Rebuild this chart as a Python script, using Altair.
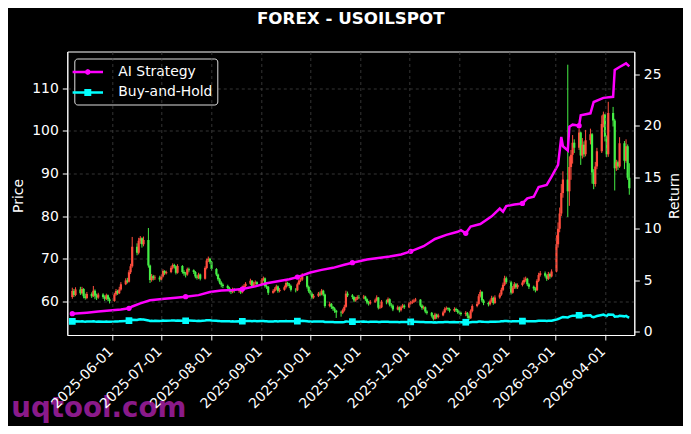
import altair as alt
import pandas as pd

TITLE = "FOREX - USOILSPOT"
WATERMARK = "uqtool.com"
SERIES = ["AI Strategy", "Buy-and-Hold"]
SERIES_COLORS = ["#ff00ff", "#00ffff"]
UP_COLOR = "#ff4d3d"
DOWN_COLOR = "#45ee45"
FONT = "DejaVu Sans"

START, END = "2025-05-07", "2026-04-16"
first_open = 61.0

# daily closes, one row per week (Mon-Fri)
closes = [
    62.4, 61.5, 62.8,
    61.9, 62.9, 61.2, 60.8, 61.7,
    61.2, 62.5, 61.3, 60.9, 61.6,
    61.0, 60.6, 61.4, 60.5, 60.1,
    61.6, 62.4, 61.9, 62.8, 64.0,
    64.9, 64.6, 66.8, 68.2, 72.8,
    71.4, 74.2, 74.8, 73.4, 74.4,
    68.4, 65.0, 65.9, 65.4, 65.6,
    65.1, 65.8, 67.1, 66.6, 66.9,
    67.9, 68.5, 68.2, 66.7, 68.3,
    66.9, 66.5, 66.3, 67.5, 67.3,
    66.9, 65.8, 65.5, 66.3, 65.3,
    67.8, 69.6, 70.0, 69.3, 67.6,
    66.3, 65.2, 64.4, 63.9, 63.6,
    63.1, 62.6, 62.2, 62.9, 62.4,
    62.6, 62.1, 63.3, 63.6, 64.1,
    64.8, 63.5, 64.2, 64.5, 64.0,
    65.0, 65.4, 63.6, 63.4, 62.0,
    62.4, 62.9, 63.5, 62.4, 62.7,
    63.3, 64.3, 64.0, 63.6, 62.7,
    62.6, 64.0, 64.9, 65.1, 65.9,
    63.4, 62.4, 61.8, 60.9, 61.3,
    61.8, 61.6, 62.5, 61.6, 58.9,
    59.4, 58.7, 58.3, 57.8, 57.4,
    57.3, 57.9, 58.7, 61.8, 61.4,
    61.0, 60.2, 60.6, 61.0, 60.9,
    61.1, 60.5, 59.7, 59.5, 59.9,
    60.2, 60.9, 58.5, 58.6, 59.9,
    59.8, 60.5, 59.2, 59.0, 58.1,
    58.6, 57.9, 58.6, 59.0, 58.6,
    59.5, 59.7, 59.9, 60.2, 60.4,
    59.0, 58.4, 58.6, 57.6, 57.3,
    56.6, 55.9, 56.9, 56.3, 56.7,
    57.4, 58.2, 58.4, 58.2, 57.8,
    58.2, 57.9, 57.5, 57.3, 57.0,
    57.3, 56.6, 56.0, 57.7, 58.9,
    59.4, 61.2, 62.2, 60.2, 59.6,
    59.3, 60.0, 60.8, 59.6, 60.9,
    61.6, 62.7, 63.9, 65.4, 64.5,
    62.0, 63.2, 64.0, 63.3, 63.8,
    64.4, 65.0, 65.3, 64.0, 63.4,
    63.0, 62.6, 64.8, 66.2, 66.6,
    66.0, 65.3, 66.4, 65.8, 67.0,
    73.4, 77.0, 80.6, 85.4, 88.6,
    85.8, 91.5, 94.4, 97.2, 96.0,
    99.6, 94.2, 96.7, 94.5, 97.8,
    99.2, 90.2, 87.5, 91.6, 95.2,
    101.6, 103.8, 98.6, 94.5, 104.2,
    102.4, 91.2, 92.6, 91.6, 97.1,
    93.0, 96.4, 89.0, 86.5,
]

highs = [
    63.2, 62.9, 63.3,
    63.4, 63.4, 63.1, 61.8, 62.2,
    62.1, 63.6, 62.8, 61.8, 62.0,
    61.9, 61.4, 61.8, 61.6, 60.9,
    62.0, 62.9, 62.7, 63.4, 64.5,
    65.4, 65.5, 67.3, 68.8, 75.1,
    73.6, 74.9, 75.3, 75.0, 75.2,
    77.2, 68.6, 66.4, 66.2, 66.1,
    66.0, 66.3, 67.5, 67.3, 67.2,
    68.3, 68.9, 68.8, 68.4, 68.7,
    68.5, 67.3, 66.9, 67.9, 67.9,
    67.5, 67.1, 66.2, 66.7, 66.5,
    68.2, 70.0, 70.5, 70.2, 69.5,
    67.8, 66.5, 65.5, 64.7, 64.2,
    63.9, 63.4, 62.9, 63.2, 63.1,
    63.0, 62.9, 63.7, 64.0, 64.5,
    65.3, 65.0, 64.6, 64.9, 64.7,
    65.4, 65.8, 65.6, 64.0, 63.6,
    62.8, 63.3, 63.9, 63.7, 63.1,
    63.7, 64.8, 64.6, 64.3, 63.9,
    63.1, 64.4, 65.4, 65.6, 66.6,
    66.0, 63.7, 62.7, 62.1, 61.7,
    62.2, 62.3, 62.9, 62.7, 61.8,
    59.9, 59.6, 58.9, 58.6, 58.0,
    57.8, 58.3, 59.2, 62.5, 62.3,
    61.7, 61.2, 61.0, 61.4, 61.5,
    61.5, 61.3, 60.7, 60.1, 60.3,
    60.6, 61.4, 61.0, 59.1, 60.3,
    60.4, 60.9, 60.7, 59.6, 59.3,
    59.0, 58.8, 59.0, 59.4, 59.3,
    59.9, 60.1, 60.4, 60.6, 60.8,
    60.5, 59.3, 59.0, 58.8, 57.9,
    57.5, 56.8, 57.3, 57.1, 57.1,
    57.8, 58.6, 58.8, 58.6, 58.5,
    58.6, 58.5, 58.2, 57.7, 57.6,
    57.7, 57.5, 56.9, 58.1, 59.3,
    59.9, 61.7, 62.7, 62.4, 60.5,
    59.9, 60.4, 61.3, 61.1, 61.4,
    62.0, 63.2, 64.4, 66.0, 65.8,
    64.8, 63.6, 64.5, 64.3, 64.2,
    64.9, 65.6, 65.8, 65.5, 64.3,
    63.7, 63.3, 65.2, 66.7, 67.1,
    67.0, 66.3, 66.9, 66.7, 67.5,
    75.5, 78.5, 82.0, 87.5, 90.5,
    115.5, 94.0, 95.5, 99.0, 98.0,
    100.6, 99.8, 98.3, 97.5, 100.2,
    100.5, 99.5, 91.0, 92.7, 96.0,
    103.6, 104.5, 104.0, 98.9, 106.8,
    105.6, 102.8, 93.2, 93.0, 98.5,
    97.6, 98.0, 96.8, 92.4,
]

lows = [
    60.6, 61.0, 61.2,
    61.5, 61.6, 60.7, 60.4, 60.5,
    60.8, 61.0, 60.5, 60.3, 60.6,
    60.6, 60.1, 60.3, 60.0, 59.5,
    59.9, 61.3, 61.5, 61.7, 62.5,
    63.8, 64.2, 64.4, 66.4, 67.9,
    70.8, 71.0, 73.5, 72.6, 72.9,
    67.9, 64.3, 64.6, 64.9, 65.0,
    64.6, 64.9, 65.6, 66.2, 66.3,
    66.6, 67.5, 67.7, 66.3, 66.5,
    66.5, 66.0, 65.6, 66.0, 66.8,
    66.4, 65.4, 65.1, 65.2, 64.9,
    65.1, 67.5, 69.2, 68.8, 67.2,
    65.9, 64.8, 64.0, 63.3, 63.1,
    62.7, 62.1, 61.7, 61.9, 62.0,
    62.0, 61.7, 61.9, 62.9, 63.3,
    63.8, 63.2, 63.3, 63.9, 63.6,
    63.8, 64.7, 63.2, 62.9, 61.5,
    61.8, 62.1, 62.6, 62.0, 62.1,
    62.5, 63.0, 63.5, 63.1, 62.3,
    62.1, 62.4, 63.8, 64.5, 64.8,
    63.0, 62.0, 61.4, 60.5, 60.6,
    61.0, 61.2, 61.4, 61.2, 58.5,
    58.6, 58.2, 57.8, 57.3, 56.1,
    56.4, 57.0, 57.6, 58.5, 61.0,
    60.5, 59.8, 59.9, 60.3, 60.5,
    60.5, 60.1, 59.3, 59.0, 59.2,
    59.6, 60.0, 58.1, 58.2, 58.4,
    59.3, 59.5, 58.8, 58.5, 57.7,
    57.9, 57.4, 57.6, 58.4, 58.2,
    58.4, 59.2, 59.4, 59.6, 59.9,
    58.7, 58.0, 58.1, 57.2, 56.9,
    56.2, 55.5, 55.7, 55.9, 56.0,
    56.5, 57.2, 57.9, 57.8, 57.4,
    57.5, 57.5, 57.1, 56.9, 56.6,
    56.5, 56.0, 55.6, 55.9, 57.4,
    58.6, 59.2, 60.9, 59.8, 59.1,
    58.8, 59.0, 59.7, 59.2, 59.4,
    60.6, 61.3, 62.4, 63.6, 64.1,
    61.6, 61.8, 62.9, 62.9, 62.9,
    63.5, 64.1, 64.6, 63.6, 62.9,
    62.5, 62.1, 62.4, 64.5, 65.8,
    65.6, 64.8, 65.0, 65.3, 65.6,
    66.8, 72.6, 76.2, 80.0, 84.3,
    79.8, 82.4, 88.5, 92.3, 94.8,
    95.5, 92.0, 93.5, 93.8, 94.0,
    96.8, 87.6, 86.3, 86.9, 91.0,
    94.8, 100.8, 97.5, 93.8, 93.9,
    101.0, 86.0, 90.6, 90.8, 91.3,
    91.0, 92.5, 88.5, 85.0,
]

strategy_dates = [
    "2025-05-07", "2025-05-16", "2025-05-23", "2025-05-30", "2025-06-06",
    "2025-06-11", "2025-06-13", "2025-06-18", "2025-06-24", "2025-07-03",
    "2025-07-10", "2025-07-16", "2025-07-24", "2025-07-31", "2025-08-07",
    "2025-08-14", "2025-08-20", "2025-08-28", "2025-09-04", "2025-09-11",
    "2025-09-18", "2025-09-23", "2025-10-01", "2025-10-08", "2025-10-15",
    "2025-10-22", "2025-10-27", "2025-11-05", "2025-11-12", "2025-11-19",
    "2025-11-26", "2025-12-02", "2025-12-10", "2025-12-17", "2025-12-24",
    "2025-12-31", "2026-01-02", "2026-01-05", "2026-01-08", "2026-01-14",
    "2026-01-21", "2026-01-26", "2026-01-28", "2026-01-30", "2026-02-04",
    "2026-02-09", "2026-02-12", "2026-02-16", "2026-02-19", "2026-02-24",
    "2026-02-27", "2026-03-03", "2026-03-05", "2026-03-06", "2026-03-09",
    "2026-03-10", "2026-03-12", "2026-03-16", "2026-03-17", "2026-03-23",
    "2026-03-25", "2026-03-31", "2026-04-06", "2026-04-07", "2026-04-10",
    "2026-04-14", "2026-04-16",
]
strategy_values = [
    1.75, 1.85, 1.95, 2.05, 2.15,
    2.27, 2.45, 2.75, 3.05, 3.2,
    3.3, 3.4, 3.55, 3.85, 4.0,
    4.05, 4.14, 4.4, 4.7, 4.9,
    5.1, 5.3, 5.75, 6.0, 6.2,
    6.5, 6.7, 7.0, 7.15, 7.3,
    7.5, 7.8, 8.3, 9.0, 9.4,
    9.7, 9.85, 9.55, 10.2, 10.45,
    11.2, 11.95, 11.65, 12.2, 12.35,
    12.45, 12.95, 13.1, 14.05, 14.25,
    15.05, 16.2, 18.9, 18.0, 17.6,
    19.9, 20.1, 20.0, 21.0, 21.2,
    22.3, 22.7, 22.8, 25.4, 25.7,
    26.05, 25.75,
]

marker_dates = [
    "2025-05-07", "2025-06-11", "2025-07-16", "2025-08-20", "2025-09-23",
    "2025-10-27", "2025-12-02", "2026-01-05", "2026-02-09", "2026-03-16",
]

month_ticks = [(2025, 6), (2025, 7), (2025, 8), (2025, 9), (2025, 10), (2025, 11),
               (2025, 12), (2026, 1), (2026, 2), (2026, 3), (2026, 4)]
price_ticks = [60, 70, 80, 90, 100, 110]
return_ticks = [0, 5, 10, 15, 20, 25]
price_domain = [52.1, 118.6]
return_domain = [-0.32, 27.2]

days = pd.bdate_range(START, END).strftime("%Y-%m-%d").tolist()
assert len(days) == len(closes) == len(highs) == len(lows), (len(days), len(closes), len(highs), len(lows))
opens = [first_open] + closes[:-1]
price_df = pd.DataFrame({"date": days, "open": opens, "high": highs, "low": lows, "close": closes})

bh_values = [c / closes[0] for c in closes]
ai_df = pd.DataFrame({"date": strategy_dates, "value": strategy_values, "series": SERIES[0]})
bh_df = pd.DataFrame({"date": days, "value": bh_values, "series": SERIES[1]})
ai_markers_df = ai_df[ai_df["date"].isin(marker_dates)]
bh_markers_df = bh_df[bh_df["date"].isin(marker_dates)]
markers_df = pd.concat([ai_markers_df, bh_markers_df], ignore_index=True)


def dt(y, m, d):
    return alt.DateTime(year=y, month=m, date=d, utc=True)


x_enc = alt.X(
    "date:T",
    scale=alt.Scale(type="utc", domain=[dt(2025, 5, 7), dt(2026, 4, 16)]),
    axis=alt.Axis(
        values=[dt(y, m, 1) for y, m in month_ticks],
        format="%Y-%m-%d", labelAngle=315, labelAlign="right", labelBaseline="top",
        labelPadding=4, labelOffset=-7, labelOverlap=False, labelFlush=False,
        grid=True, title=None, zindex=1,
    ),
)

price_scale = alt.Scale(domain=price_domain, nice=False, zero=False)
price_axis = alt.Axis(values=price_ticks, orient="left", title="Price", grid=True,
                      titleAngle=270, titleX=-49, titleY=144,
                      titleAlign="center", titleBaseline="middle")
ret_scale = alt.Scale(domain=return_domain, nice=False, zero=False)
ret_axis = alt.Axis(values=return_ticks, orient="right", title="Return", grid=False,
                    titleAngle=270, titleX=40, titleY=144,
                    titleAlign="center", titleBaseline="middle")

candle_color = alt.condition("datum.close >= datum.open", alt.value(UP_COLOR), alt.value(DOWN_COLOR))

wicks = alt.Chart(price_df).mark_rule(strokeWidth=1, clip=True).encode(
    x=x_enc, y=alt.Y("low:Q", scale=price_scale, axis=price_axis), y2="high:Q", color=candle_color)
bodies = alt.Chart(price_df).mark_bar(size=2.2, clip=True).encode(
    x=x_enc, y=alt.Y("open:Q", scale=price_scale, axis=price_axis), y2="close:Q", color=candle_color)

y_ret = alt.Y("value:Q", scale=ret_scale, axis=ret_axis)
series_scale = alt.Scale(domain=SERIES, range=SERIES_COLORS)

ai_line = alt.Chart(ai_df).mark_line(strokeWidth=2.5, clip=True, color=SERIES_COLORS[0]).encode(
    x=x_enc, y=y_ret)
bh_line = alt.Chart(bh_df).mark_line(strokeWidth=2.5, clip=True, color=SERIES_COLORS[1]).encode(
    x=x_enc, y=y_ret)
ai_markers = alt.Chart(ai_markers_df).mark_point(
    shape="circle", filled=True, size=28, color=SERIES_COLORS[0], opacity=1, clip=True
).encode(x=x_enc, y=y_ret)
bh_markers = alt.Chart(bh_markers_df).mark_point(
    shape="square", filled=True, size=45, color=SERIES_COLORS[1], opacity=1, clip=True
).encode(x=x_enc, y=y_ret)

PATH_AI = "M-1.9,0L1.9,0M0.2,0L0.14,0.14L0,0.2L-0.14,0.14L-0.2,0L-0.14,-0.14L0,-0.2L0.14,-0.14Z"
PATH_BH = "M-1.9,0L1.9,0M-0.28,-0.28L0.28,-0.28L0.28,0.28L-0.28,0.28Z"

leg = alt.Legend(
    title=None, orient="top-left", offset=7, symbolSize=256, symbolStrokeWidth=2.5,
    symbolOpacity=1, labelOffset=21, padding=4, rowPadding=3.4, cornerRadius=3,
    fillColor="black", strokeColor="#dddddd", labelFontSize=13.9, labelColor="white",
    labelFont=FONT,
)
legend_layer = alt.Chart(markers_df).mark_point(filled=True, opacity=0).encode(
    x=x_enc, y=y_ret,
    fill=alt.Fill("series:N", scale=series_scale, legend=leg),
    stroke=alt.Stroke("series:N", scale=series_scale, legend=leg),
    shape=alt.Shape("series:N", scale=alt.Scale(domain=SERIES, range=[PATH_AI, PATH_BH]), legend=leg),
)

watermark = alt.Chart(pd.DataFrame({"t": [WATERMARK]})).mark_text(
    align="left", baseline="alphabetic", fontSize=27.7, fontWeight="bold",
    color="#8a1a8a", font=FONT,
).encode(x=alt.value(-56), y=alt.value(365.5), text="t:N")

price_layer = alt.layer(wicks, bodies)
ret_layer = alt.layer(ai_line, bh_line, ai_markers, bh_markers, legend_layer)

chart = alt.layer(price_layer, ret_layer, watermark).resolve_scale(y="independent").properties(
    width=567, height=283.5,
    title=alt.TitleParams(TITLE, fontSize=16.7, fontWeight="bold", color="white", font=FONT,
                          anchor="middle", frame="group", offset=24),
    autosize=alt.AutoSizeParams(type="none"),
    padding={"left": 59.3, "top": 43.5, "right": 48.7, "bottom": 91},
    background="black",
).configure_view(stroke="white", strokeWidth=1).configure_axis(
    labelColor="white", labelFontSize=13.9, labelFont=FONT, tickColor="white", tickSize=5,
    tickWidth=1, domainColor="white", gridColor="#4a4a4a", gridDash=[3, 3], gridWidth=0.7,
    titleColor="white", titleFontSize=13.9, titleFont=FONT, titleFontWeight="normal",
    labelPadding=4,
)

chart.save("out.html", embed_options={"renderer": "svg", "actions": False})
